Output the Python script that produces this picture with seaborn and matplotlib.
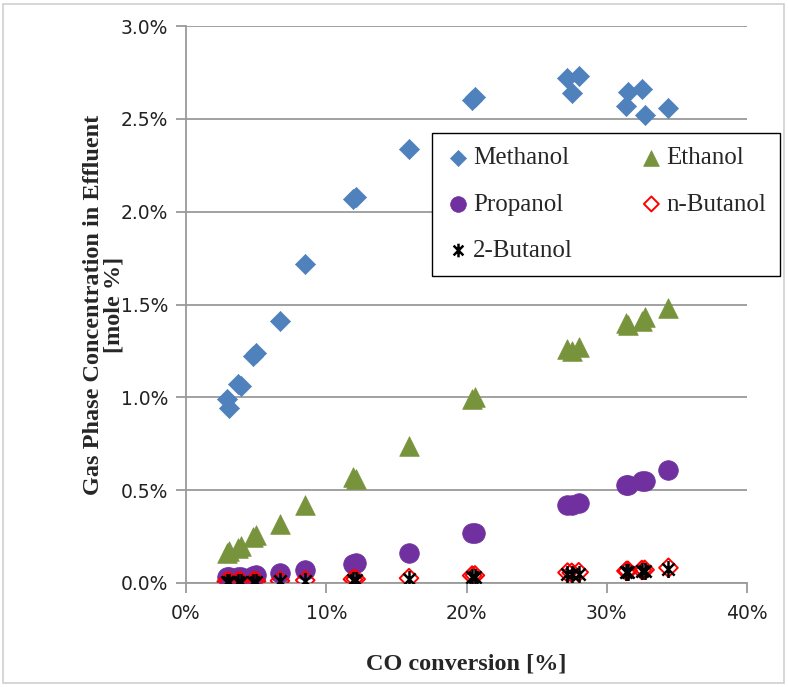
import matplotlib
matplotlib.use("Agg")
import matplotlib.pyplot as plt
import numpy as np
import pandas as pd
import seaborn as sns
from matplotlib.path import Path
from matplotlib.patches import Rectangle
from matplotlib.ticker import FuncFormatter

# CO conversion of each sample [%]
conversion = [2.9, 3.1, 3.7, 3.9, 4.8, 5.0, 6.7, 8.5, 11.9, 12.1, 15.9,
              20.4, 20.6, 27.2, 27.5, 28.0, 31.5, 31.4, 32.5, 32.7, 34.4]

# Gas phase concentration in effluent [mole %]
methanol = [0.99, 0.94, 1.07, 1.06, 1.22, 1.24, 1.41, 1.72, 2.07, 2.08, 2.34,
            2.60, 2.62, 2.72, 2.64, 2.73, 2.645, 2.57, 2.66, 2.52, 2.56]
ethanol = [0.16, 0.17, 0.19, 0.20, 0.25, 0.26, 0.32, 0.42, 0.57, 0.56, 0.74,
           0.99, 1.00, 1.26, 1.25, 1.27, 1.39, 1.40, 1.41, 1.43, 1.48]
propanol = [0.030, 0.030, 0.032, 0.033, 0.040, 0.045, 0.055, 0.070, 0.10, 0.11, 0.16,
            0.27, 0.27, 0.42, 0.42, 0.43, 0.53, 0.53, 0.55, 0.55, 0.61]
n_butanol = [0.008, 0.008, 0.009, 0.009, 0.010, 0.010, 0.012, 0.015, 0.020, 0.021, 0.026,
             0.040, 0.041, 0.056, 0.055, 0.058, 0.066, 0.065, 0.070, 0.071, 0.082]
butanol_2 = [0.005, 0.005, 0.006, 0.006, 0.007, 0.007, 0.009, 0.011, 0.015, 0.016, 0.021,
             0.033, 0.034, 0.048, 0.047, 0.050, 0.058, 0.057, 0.062, 0.063, 0.074]

x_ticks = [0, 10, 20, 30, 40]
y_ticks = [0.0, 0.5, 1.0, 1.5, 2.0, 2.5, 3.0]

df = pd.DataFrame({
    "conversion": conversion,
    "Methanol": methanol,
    "Ethanol": ethanol,
    "Propanol": propanol,
    "n-Butanol": n_butanol,
    "2-Butanol": butanol_2,
}).melt(id_vars="conversion", var_name="species", value_name="conc")

sns.set_theme(style="white")
plt.rcParams["font.family"] = ["DejaVu Sans"]

W, H = 788, 687
fig = plt.figure(figsize=(W / 100, H / 100), dpi=100)
fig.patch.set_facecolor("white")
fig.patches.append(Rectangle((3 / W, 4 / H), (W - 7) / W, (H - 8) / H,
                             transform=fig.transFigure, fill=False,
                             edgecolor="#D0D0D0", linewidth=1.2))

ax = fig.add_axes([186 / W, 1 - 583 / H, (747 - 186) / W, (583 - 26) / H])

# vertical line + X, like a spreadsheet "star" marker
star = Path([(0, -1), (0, 1), (-0.72, -0.72), (0.72, 0.72), (-0.72, 0.72), (0.72, -0.72)],
            [Path.MOVETO, Path.LINETO] * 3)

grid_col = "#9A9A9A"
ax.set_axisbelow(True)
ax.yaxis.grid(True, color=grid_col, linewidth=1.3)
ax.xaxis.grid(False)

styles = {
    "Methanol": dict(marker="D", s=105, color="#4F81BD", edgecolor="#4F81BD", linewidth=0.5),
    "Ethanol": dict(marker="^", s=200, color="#77933C", edgecolor="#77933C", linewidth=0.5),
    "Propanol": dict(marker="o", s=200, color="#7030A0", edgecolor="#7030A0", linewidth=0.5),
    "n-Butanol": dict(marker="D", s=90, facecolor="none", edgecolor="#FF0000", linewidth=1.4),
    "2-Butanol": dict(marker=star, s=150, color="black", edgecolor="black", linewidth=1.8),
}

handles = {}
for name, st in styles.items():
    sub = df[df["species"] == name]
    sns.scatterplot(data=sub, x="conversion", y="conc", ax=ax, label=name,
                    legend=False, zorder=3, **st)
    handles[name] = ax.collections[-1]

ax.set_xlim(0, 40)
ax.set_ylim(0, 3.0)
ax.set_xticks(x_ticks)
ax.set_yticks(y_ticks)
ax.xaxis.set_major_formatter(FuncFormatter(lambda v, p: f"{v:.0f}%"))
ax.yaxis.set_major_formatter(FuncFormatter(lambda v, p: f"{v:.1f}%"))

for side in ["top", "right"]:
    ax.spines[side].set_visible(False)
for side in ["left", "bottom"]:
    ax.spines[side].set_color(grid_col)
    ax.spines[side].set_linewidth(1.3)
ax.tick_params(axis="both", which="major", direction="out", length=7, width=1.3,
               color=grid_col, labelsize=13.5, labelcolor="#222222", pad=6)
ax.tick_params(axis="x", bottom=True, pad=8)
ax.tick_params(axis="y", left=True)

ax.set_xlabel("CO conversion [%]", fontsize=17.5, fontweight="bold",
              family="Liberation Serif", labelpad=22)
ax.set_ylabel("Gas Phase Concentration in Effluent\n[mole %]", fontsize=17.5,
              fontweight="bold", family="Liberation Serif", labelpad=-3,
              linespacing=1.0)

order = ["Methanol", "Propanol", "2-Butanol", "Ethanol", "n-Butanol"]
x0 = (432 - 186) / 561
w = (780 - 432) / 561
y0 = (583 - 273) / 557
h = (273 - 133) / 557
leg = ax.legend([handles[k] for k in order], order, ncol=2, loc="upper left",
                bbox_to_anchor=(x0, y0, w, h), mode="expand",
                frameon=True, fancybox=False, edgecolor="black", framealpha=1,
                prop={"family": "Liberation Serif", "size": 18},
                markerscale=0.8, handletextpad=0.1, columnspacing=1.0,
                labelspacing=0.95, borderpad=0.55, handlelength=1.0,
                borderaxespad=0)
leg.get_frame().set_linewidth(1.0)
leg.set_zorder(5)

fig.savefig("out.png", dpi=100, facecolor="white")
